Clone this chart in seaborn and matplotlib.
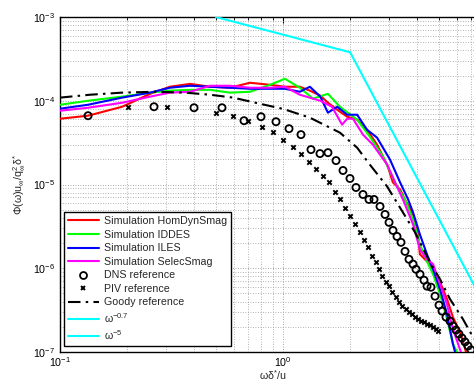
import matplotlib
matplotlib.use("Agg")
import matplotlib.pyplot as plt
import seaborn as sns
import numpy as np
import pandas as pd
from matplotlib.lines import Line2D

# ---------------- data ----------------
red_x = [0.1, 0.1336, 0.190, 0.2535, 0.311, 0.383, 0.471, 0.578, 0.711, 0.875, 1.02, 1.19,
         1.32, 1.47, 1.59, 1.75, 1.94, 2.15, 2.38, 2.64, 2.93, 3.11, 3.35, 3.52, 3.83, 4.03,
         4.11, 4.42, 4.71, 5.06, 5.44, 5.78, 6.22, 6.62]
red_y = [6.1e-5, 6.63e-5, 8.48e-5, 1.21e-4, 1.47e-4, 1.59e-4, 1.47e-4, 1.43e-4, 1.64e-4,
         1.55e-4, 1.47e-4, 1.47e-4, 1.32e-4, 1.15e-4, 9.47e-5, 7.81e-5, 6.45e-5, 5.94e-5,
         4.51e-5, 2.99e-5, 1.73e-5, 1.06e-5, 8.72e-6, 6.63e-6, 4.39e-6, 2.54e-6, 1.47e-6,
         1.21e-6, 9.73e-7, 6.81e-7, 4.28e-7, 2.61e-7, 1.73e-7, 1.0e-7]

green_x = [0.1, 0.1336, 0.190, 0.2535, 0.311, 0.383, 0.471, 0.578, 0.711, 0.875, 1.02, 1.19,
           1.363, 1.59, 1.80, 2.15, 2.45, 2.808, 3.245, 3.52, 3.83, 4.11, 4.42, 4.71, 5.06,
           5.44, 5.78, 6.03]
green_y = [8.96e-5, 1.0e-4, 1.12e-4, 1.25e-4, 1.32e-4, 1.35e-4, 1.35e-4, 1.25e-4, 1.28e-4,
           1.55e-4, 1.83e-4, 1.43e-4, 1.06e-4, 1.21e-4, 8.48e-5, 5.94e-5, 3.73e-5, 2.15e-5,
           9.47e-6, 6.63e-6, 3.83e-6, 1.93e-6, 1.21e-6, 8.48e-7, 4.90e-7, 2.47e-7, 1.25e-7,
           1.0e-7]

blue_x = [0.1, 0.1336, 0.190, 0.2535, 0.311, 0.383, 0.471, 0.578, 0.711, 0.875, 1.02, 1.19,
          1.32, 1.47, 1.59, 1.75, 1.94, 2.15, 2.38, 2.64, 3.02, 3.35, 3.64, 3.83, 4.11, 4.42,
          4.71, 5.06, 5.44, 5.78, 5.91]
blue_y = [8.03e-5, 8.96e-5, 1.09e-4, 1.25e-4, 1.43e-4, 1.51e-4, 1.47e-4, 1.43e-4, 1.39e-4,
          1.39e-4, 1.39e-4, 1.28e-4, 1.47e-4, 1.12e-4, 7.2e-5, 8.48e-5, 6.81e-5, 6.81e-5,
          4.51e-5, 3.63e-5, 1.98e-5, 1.06e-5, 6.63e-6, 4.64e-6, 2.54e-6, 1.47e-6, 9.73e-7,
          5.62e-7, 2.83e-7, 1.25e-7, 1.0e-7]

magenta_x = [0.1, 0.1336, 0.190, 0.2535, 0.311, 0.383, 0.471, 0.578, 0.711, 0.875, 1.02, 1.19,
             1.47, 1.658, 1.84, 1.94, 2.06, 2.284, 2.53, 2.93, 3.245, 3.45, 3.83, 4.11, 4.42,
             4.71, 5.06, 5.44, 5.78, 6.28]
magenta_y = [7.6e-5, 8.25e-5, 9.47e-5, 1.12e-4, 1.25e-4, 1.28e-4, 1.51e-4, 1.51e-4, 1.43e-4,
             1.43e-4, 1.47e-4, 1.18e-4, 1.0e-4, 8.48e-5, 5.18e-5, 6.1e-5, 6.1e-5, 3.94e-5,
             2.99e-5, 1.73e-5, 9.47e-6, 6.63e-6, 3.34e-6, 1.68e-6, 1.28e-6, 1.12e-6, 6.45e-7,
             3.73e-7, 1.88e-7, 1.0e-7]

dns_x = [0.1336, 0.2639, 0.399, 0.5326, 0.6686, 0.7967, 0.9302, 1.064, 1.204, 1.335, 1.465,
         1.591, 1.729, 1.858, 1.997, 2.125, 2.284, 2.430, 2.559, 2.723, 2.868, 2.989, 3.114,
         3.245, 3.382, 3.525, 3.673, 3.828, 3.948, 4.115, 4.289, 4.424, 4.610, 4.805, 5.008,
         5.164, 5.382, 5.609, 5.785, 5.967, 6.154, 6.347, 6.547, 6.753, 6.966]
dns_y = [6.63e-5, 8.48e-5, 8.25e-5, 8.25e-5, 5.78e-5, 6.45e-5, 5.62e-5, 4.64e-5, 3.94e-5,
         2.61e-5, 2.34e-5, 2.40e-5, 1.93e-5, 1.47e-5, 1.18e-5, 9.21e-6, 7.60e-6, 6.63e-6,
         6.63e-6, 5.47e-6, 4.39e-6, 3.53e-6, 2.83e-6, 2.40e-6, 2.04e-6, 1.59e-6, 1.28e-6,
         1.12e-6, 9.73e-7, 8.48e-7, 7.20e-7, 6.11e-7, 5.94e-7, 4.64e-7, 3.63e-7, 3.08e-7,
         2.61e-7, 2.34e-7, 2.04e-7, 1.83e-7, 1.64e-7, 1.47e-7, 1.32e-7, 1.18e-7, 1.06e-7]

piv_x = [0.2018, 0.3018, 0.5006, 0.5967, 0.6966, 0.805, 0.902, 1.0, 1.109, 1.204, 1.308,
         1.406, 1.512, 1.608, 1.711, 1.802, 1.897, 1.997, 2.103, 2.214, 2.307, 2.405, 2.507,
         2.612, 2.695, 2.780, 2.897, 2.989, 3.083, 3.212, 3.314, 3.418, 3.561, 3.673, 3.789,
         3.909, 4.032, 4.159, 4.289, 4.424, 4.562, 4.706, 4.854, 4.956]
piv_y = [8.48e-5, 8.48e-5, 7.20e-5, 6.63e-5, 5.78e-5, 4.90e-5, 4.28e-5, 3.43e-5, 2.83e-5,
         2.34e-5, 1.88e-5, 1.55e-5, 1.25e-5, 1.06e-5, 8.03e-6, 6.63e-6, 5.18e-6, 4.16e-6,
         3.34e-6, 2.68e-6, 2.15e-6, 1.78e-6, 1.39e-6, 1.18e-6, 9.73e-7, 8.03e-7, 6.81e-7,
         6.11e-7, 5.18e-7, 4.52e-7, 3.94e-7, 3.53e-7, 3.25e-7, 2.99e-7, 2.83e-7, 2.61e-7,
         2.47e-7, 2.34e-7, 2.28e-7, 2.15e-7, 2.10e-7, 1.98e-7, 1.88e-7, 1.78e-7]

goody_x = [0.1, 0.1364, 0.190, 0.267, 0.364, 0.471, 0.597, 0.789, 1.0, 1.32, 1.80, 2.15,
           2.45, 2.93, 3.45, 3.91, 4.56, 5.06, 5.61, 6.41, 7.19]
goody_y = [1.09e-4, 1.18e-4, 1.25e-4, 1.28e-4, 1.25e-4, 1.18e-4, 1.09e-4, 9.2e-5, 8.0e-5,
           6.28e-5, 4.16e-5, 2.75e-5, 1.73e-5, 9.47e-6, 4.64e-6, 2.68e-6, 1.18e-6, 7.4e-7,
           4.28e-7, 2.47e-7, 1.43e-7]

slope07_x = [0.5, 2.0]
slope07_y = [1.0e-3, 3.79e-4]
slope5_x = [2.0, 10.0]
slope5_y = [3.79e-4, 1.21e-7]

labels = ["Simulation HomDynSmag", "Simulation IDDES", "Simulation ILES",
          "Simulation SelecSmag", "DNS reference", "PIV reference", "Goody reference",
          "ω$^{-0.7}$", "ω$^{-5}$"]

xtick_vals = [0.1, 1.0, 10.0]
xtick_labels = [r"$\mathdefault{10^{-1}}$", r"$\mathdefault{10^{0}}$", ""]

# ---------------- style ----------------
sns.set_style("white")
plt.rcParams["font.family"] = ["Liberation Sans", "DejaVu Sans"]
plt.rcParams["mathtext.fontset"] = "custom"
plt.rcParams["mathtext.rm"] = "Liberation Sans"
plt.rcParams["mathtext.it"] = "Liberation Sans:italic"
plt.rcParams["mathtext.bf"] = "Liberation Sans:bold"

FS = 7.7
fig = plt.figure(figsize=(4.74, 3.79), dpi=100)
fig.patch.set_facecolor("white")
ax = fig.add_axes([60 / 474, 1 - 352 / 379, 446 / 474, 335 / 379])
ax.set_xscale("log")
ax.set_yscale("log")

lw = 1.5
sim = [(red_x, red_y, "#ff0000"), (green_x, green_y, "#00ff00"),
       (blue_x, blue_y, "#0000ff"), (magenta_x, magenta_y, "#ff00ff")]
for x, y, c in sim:
    sns.lineplot(x=x, y=y, color=c, lw=lw, ax=ax, estimator=None, sort=False, zorder=3)

dashdot = (0, (6, 2.5, 1.2, 2.5))
sns.lineplot(x=goody_x, y=goody_y, color="black", lw=1.5, ax=ax, estimator=None,
             sort=False, zorder=3, linestyle=dashdot)
sns.scatterplot(x=dns_x, y=dns_y, marker="o", s=26, color="black", facecolors="none",
                edgecolor="black", linewidth=1.3, ax=ax, zorder=4)
sns.scatterplot(x=piv_x, y=piv_y, marker="x", s=10, color="black", linewidth=1.4,
                ax=ax, zorder=4)
sns.lineplot(x=slope07_x, y=slope07_y, color="#00ffff", lw=lw, ax=ax, estimator=None,
             sort=False, zorder=3)
sns.lineplot(x=slope5_x, y=slope5_y, color="#00ffff", lw=lw, ax=ax, estimator=None,
             sort=False, zorder=3)

ax.set_xlim(0.1, 10)
ax.set_ylim(1e-7, 1e-3)
ax.set_xticks(xtick_vals, xtick_labels)

ax.grid(True, which="major", linestyle=(0, (1, 2)), color="#8a8a8a", lw=0.6)
ax.grid(True, which="minor", linestyle=(0, (1, 2)), color="#9a9a9a", lw=0.6)
ax.tick_params(which="both", direction="in", top=True, right=True, labelsize=FS,
               colors="black")
ax.tick_params(which="major", length=4, width=0.8)
ax.tick_params(which="minor", length=2, width=0.6)
ax.tick_params(axis="x", pad=2)
for s in ax.spines.values():
    s.set_color("black")
    s.set_linewidth(1.0)

ax.set_xlabel("ωδ$^{*}$/u", fontsize=FS)
ax.xaxis.set_label_coords((273 - 60) / 446, -0.047)
ax.set_ylabel(r"Φ(ω)u$_{\infty}$/q$_{\infty}^{2}$δ$^{*}$", fontsize=FS)
ax.yaxis.set_label_coords(-0.072, 0.5)

colors = ["#ff0000", "#00ff00", "#0000ff", "#ff00ff"]
handles = [Line2D([], [], color=c, lw=lw) for c in colors]
handles.append(Line2D([], [], marker="o", color="black", markerfacecolor="none",
                      linestyle="none", markersize=5, markeredgewidth=1.3))
handles.append(Line2D([], [], marker="x", color="black", linestyle="none",
                      markersize=3.5, markeredgewidth=1.4))
handles.append(Line2D([], [], color="black", lw=1.5, linestyle=dashdot))
handles.append(Line2D([], [], color="#00ffff", lw=lw))
handles.append(Line2D([], [], color="#00ffff", lw=lw))

leg = ax.legend(handles, labels, loc="lower left", bbox_to_anchor=(0.008, 0.017),
                fontsize=FS, frameon=True, fancybox=False, framealpha=1,
                edgecolor="black", borderpad=0.4, labelspacing=0.33,
                handlelength=2.9, handletextpad=0.45, borderaxespad=0)
leg.get_frame().set_linewidth(1.0)
leg.set_zorder(10)

fig.savefig("out.png", dpi=100)
